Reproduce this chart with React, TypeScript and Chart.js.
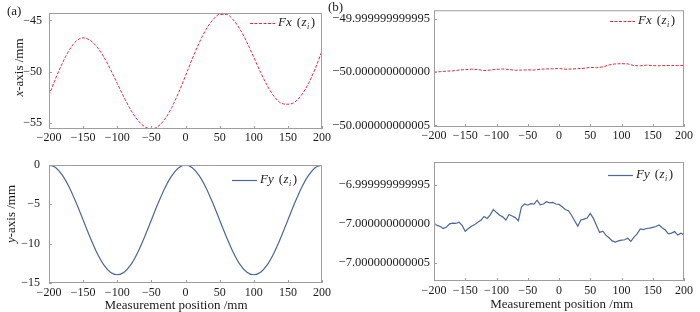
import React, { useEffect, useRef } from 'react';
import { Chart, registerables } from 'chart.js';

Chart.register(...registerables);

const FONT = '"Liberation Serif", "Times New Roman", serif';
const INK = '#1b1b1b';
const FRAME = '#9e9e9e';
const RED = '#d62f3f';
const BLUE = '#4b6894';

// ---------- data ----------
const positions10 = [-200, -190, -180, -170, -160, -150, -140, -130, -120, -110, -100, -90, -80, -70, -60, -50, -40, -30, -20, -10, 0, 10, 20, 30, 40, 50, 60, 70, 80, 90, 100, 110, 120, 130, 140, 150, 160, 170, 180, 190, 200];
const positions5 = [-200, -195, -190, -185, -180, -175, -170, -165, -160, -155, -150, -145, -140, -135, -130, -125, -120, -115, -110, -105, -100, -95, -90, -85, -80, -75, -70, -65, -60, -55, -50, -45, -40, -35, -30, -25, -20, -15, -10, -5, 0, 5, 10, 15, 20, 25, 30, 35, 40, 45, 50, 55, 60, 65, 70, 75, 80, 85, 90, 95, 100, 105, 110, 115, 120, 125, 130, 135, 140, 145, 150, 155, 160, 165, 170, 175, 180, 185, 190, 195, 200];

// (a) Fx(z_i), mm
const fxA = [-52.28, -50.6, -49.1, -47.85, -47.0, -46.7, -46.92, -47.55, -48.52, -49.76, -51.13, -52.49, -53.73, -54.7, -55.33, -55.55, -55.3, -54.58, -53.45, -52.01, -50.39, -48.73, -47.19, -45.89, -44.95, -44.42, -44.42, -44.95, -45.88, -47.13, -48.58, -50.05, -51.37, -52.41, -53.04, -53.15, -52.95, -52.25, -51.15, -49.7, -47.97];
// (a) Fy(z_i), mm
const fyA = [0, -0.34, -1.34, -2.88, -4.84, -7.0, -9.16, -11.12, -12.66, -13.62, -13.95, -13.62, -12.66, -11.12, -9.16, -7.0, -4.84, -2.88, -1.34, -0.34, 0, -0.34, -1.34, -2.88, -4.84, -7.0, -9.16, -11.12, -12.66, -13.62, -13.95, -13.62, -12.66, -11.12, -9.16, -7.0, -4.84, -2.88, -1.34, -0.34, 0];
// (b) Fx(z_i): deviation from -50 mm, in units of 1e-12 mm
const fxB = [0.0, 0.05, 0.1, 0.12, 0.2, 0.24, 0.28, 0.25, 0.15, 0.2, 0.27, 0.3, 0.25, 0.18, 0.2, 0.22, 0.2, 0.28, 0.3, 0.32, 0.34, 0.28, 0.3, 0.33, 0.37, 0.45, 0.42, 0.5, 0.68, 0.78, 0.8, 0.78, 0.62, 0.6, 0.66, 0.62, 0.6, 0.62, 0.63, 0.62, 0.65];
// (b) Fy(z_i): deviation from -7 mm, in units of 1e-12 mm
const fyB = [0.05, -0.2, -0.35, -0.6, -0.4, 0.0, 0.1, 0.05, 0.2, -0.2, -0.95, -0.6, -0.3, -0.1, 0.2, 0.45, 0.95, 0.7, 1.15, 1.85, 1.45, 1.1, 0.9, 0.5, 1.2, 1.0, 0.8, 0.4, 2.2, 2.55, 2.4, 2.6, 2.55, 3.05, 2.45, 2.55, 2.85, 2.7, 2.75, 2.55, 2.5, 2.2, 1.85, 1.7, 1.1, 0.4, -0.3, 0.5, 0.6, 0.75, 1.35, 0.7, -0.2, -1.1, -0.95, -1.45, -1.8, -2.2, -2.35, -2.2, -2.1, -2.05, -1.85, -2.25, -1.7, -1.3, -0.65, -0.75, -0.6, -0.55, -0.45, -0.35, -0.15, -0.5, -0.8, -1.3, -1.2, -1.0, -1.45, -1.2, -1.42];

const xTicks = [-200, -150, -100, -50, 0, 50, 100, 150, 200];
const yTicksFxA = [-45, -50, -55];
const yTicksFyA = [0, -5, -10, -15];
const yTicksFxB = [5, 0, -5];
const yTickLabelsFxB = ['\u221249.999999999995', '\u221250.000000000000', '\u221250.000000000005'];
const yTicksFyB = [5, 0, -5];
const yTickLabelsFyB = ['\u22126.999999999995', '\u22127.000000000000', '\u22127.000000000005'];

const xTitle = 'Measurement position /mm';
const yTitleX = { italic: 'x', rest: '-axis /mm' };
const yTitleY = { italic: 'y', rest: '-axis /mm' };
const legendFx = { main: 'Fx', arg: 'z', sub: 'i' };
const legendFy = { main: 'Fy', arg: 'z', sub: 'i' };

const minus = (s: string) => s.replace('-', '\u2212');

type Spec = {
  left: number; top: number; width: number; height: number;
  area: { l: number; r: number; t: number; b: number };
  xs: number[]; ys: number[];
  yMin: number; yMax: number; yTicks: number[];
  yLabel: (v: number) => string;
  yFont: number; yPad: number; xPad: number;
  color: string; dash: number[]; lw: number; tension: number;
  legend: { main: string; arg: string; sub: string };
  legendPos: { x: number; y: number };
  yTitle?: { italic: string; rest: string; cx: number; cy: number };
  xTitle?: { text: string; cx: number; cy: number };
};

function makePlugin(spec: Spec) {
  return {
    id: 'frameAndText',
    afterDraw(chart: any) {
      const ctx: CanvasRenderingContext2D = chart.ctx;
      const a = chart.chartArea;
      const xs = chart.scales.x;
      const ys = chart.scales.y;
      ctx.save();
      ctx.setLineDash([]);
      ctx.strokeStyle = FRAME;
      ctx.lineWidth = 1;
      ctx.strokeRect(a.left + 0.5, a.top + 0.5, a.right - a.left - 1, a.bottom - a.top - 1);
      ctx.beginPath();
      xs.ticks.forEach((t: any) => {
        const p = Math.round(xs.getPixelForValue(t.value)) + 0.5;
        ctx.moveTo(p, a.bottom);
        ctx.lineTo(p, a.bottom - 3);
      });
      ys.ticks.forEach((t: any) => {
        const p = Math.round(ys.getPixelForValue(t.value)) + 0.5;
        ctx.moveTo(a.left, p);
        ctx.lineTo(a.left + 3, p);
      });
      ctx.stroke();

      // legend
      const ds = chart.data.datasets[0];
      const lx = spec.legendPos.x;
      const ly = spec.legendPos.y;
      ctx.strokeStyle = ds.borderColor;
      ctx.lineWidth = ds.borderWidth;
      ctx.setLineDash(ds.borderDash || []);
      ctx.beginPath();
      ctx.moveTo(lx, ly + 0.5);
      ctx.lineTo(lx + 25, ly + 0.5);
      ctx.stroke();
      ctx.setLineDash([]);
      ctx.fillStyle = INK;
      ctx.textBaseline = 'middle';
      ctx.textAlign = 'left';
      let x = lx + 28;
      ctx.font = `italic 13px ${FONT}`;
      ctx.fillText(spec.legend.main, x, ly);
      x += ctx.measureText(spec.legend.main).width + 5;
      ctx.font = `13px ${FONT}`;
      ctx.fillText('(', x, ly);
      x += ctx.measureText('(').width + 0.5;
      ctx.font = `italic 13px ${FONT}`;
      ctx.fillText(spec.legend.arg, x, ly);
      x += ctx.measureText(spec.legend.arg).width + 0.5;
      ctx.font = `italic 8px ${FONT}`;
      ctx.fillText(spec.legend.sub, x, ly + 4);
      x += ctx.measureText(spec.legend.sub).width + 1.5;
      ctx.font = `13px ${FONT}`;
      ctx.fillText(')', x, ly);

      // y title
      if (spec.yTitle) {
        const t = spec.yTitle;
        ctx.save();
        ctx.translate(t.cx, t.cy);
        ctx.rotate(-Math.PI / 2);
        ctx.font = `italic 13px ${FONT}`;
        const w1 = ctx.measureText(t.italic).width;
        ctx.font = `13px ${FONT}`;
        const w2 = ctx.measureText(t.rest).width;
        const s = -(w1 + w2) / 2;
        ctx.font = `italic 13px ${FONT}`;
        ctx.fillText(t.italic, s, 0);
        ctx.font = `13px ${FONT}`;
        ctx.fillText(t.rest, s + w1, 0);
        ctx.restore();
      }
      // x title
      if (spec.xTitle) {
        ctx.font = `13px ${FONT}`;
        ctx.textAlign = 'center';
        ctx.fillText(spec.xTitle.text, spec.xTitle.cx, spec.xTitle.cy);
      }
      ctx.restore();
    },
  };
}

function buildConfig(spec: Spec): any {
  return {
    type: 'line',
    data: {
      datasets: [
        {
          label: spec.legend.main,
          data: spec.xs.map((x, i) => ({ x, y: spec.ys[i] })),
          borderColor: spec.color,
          borderWidth: spec.lw,
          borderDash: spec.dash,
          pointRadius: 0,
          fill: false,
          tension: spec.tension,
          cubicInterpolationMode: spec.tension > 0 ? 'monotone' : 'default',
        },
      ],
    },
    options: {
      responsive: false,
      animation: false,
      devicePixelRatio: 1,
      events: [],
      layout: { padding: { left: 0, right: spec.width - spec.area.r, top: spec.area.t, bottom: 0 } },
      plugins: { legend: { display: false }, tooltip: { enabled: false } },
      scales: {
        x: {
          type: 'linear',
          min: -200,
          max: 200,
          afterBuildTicks: (s: any) => { s.ticks = xTicks.map((v) => ({ value: v })); },
          afterFit: (s: any) => { s.height = spec.height - spec.area.b; },
          grid: { display: false, drawTicks: false },
          border: { display: false },
          ticks: {
            autoSkip: false,
            maxRotation: 0,
            padding: spec.xPad,
            color: INK,
            font: { family: FONT, size: 12, lineHeight: 1 },
            callback: (v: number) => minus(String(v)),
          },
        },
        y: {
          type: 'linear',
          min: spec.yMin,
          max: spec.yMax,
          afterBuildTicks: (s: any) => { s.ticks = spec.yTicks.map((v) => ({ value: v })); },
          afterFit: (s: any) => { s.width = spec.area.l; },
          grid: { display: false, drawTicks: false },
          border: { display: false },
          ticks: {
            autoSkip: false,
            padding: spec.yPad,
            color: INK,
            font: { family: FONT, size: spec.yFont, lineHeight: 1 },
            callback: (v: number) => spec.yLabel(v),
          },
        },
      },
    },
    plugins: [makePlugin(spec)],
  };
}

const specs: Spec[] = [
  {
    left: 0, top: 0, width: 350, height: 150,
    area: { l: 49, r: 322, t: 8, b: 129 },
    xs: positions10, ys: fxA,
    yMin: -55.56, yMax: -44.28, yTicks: yTicksFxA,
    yLabel: (v) => minus(String(v)),
    yFont: 12, yPad: 7, xPad: 2.5,
    color: RED, dash: [3, 1.5], lw: 1, tension: 0.4,
    legend: legendFx, legendPos: { x: 250, y: 23 },
    yTitle: { ...yTitleX, cx: 19.5, cy: 67.5 },
  },
  {
    left: 330, top: 0, width: 370, height: 150,
    area: { l: 104, r: 354, t: 7, b: 127 },
    xs: positions10, ys: fxB,
    yMin: -5.15, yMax: 5.82, yTicks: yTicksFxB,
    yLabel: (v) => yTickLabelsFxB[yTicksFxB.indexOf(v)] ?? '',
    yFont: 12.5, yPad: 4, xPad: 2.75,
    color: RED, dash: [3, 1.5], lw: 1, tension: 0,
    legend: legendFx, legendPos: { x: 280, y: 21 },
  },
  {
    left: 0, top: 150, width: 350, height: 162,
    area: { l: 49, r: 322, t: 13, b: 133 },
    xs: positions10, ys: fyA,
    yMin: -15, yMax: 0, yTicks: yTicksFyA,
    yLabel: (v) => minus(String(v)),
    yFont: 12, yPad: 9, xPad: 4,
    color: BLUE, dash: [], lw: 1.2, tension: 0.4,
    legend: legendFy, legendPos: { x: 232, y: 30 },
    yTitle: { ...yTitleY, cx: 12, cy: 64 },
    xTitle: { text: xTitle, cx: 176, cy: 155.5 },
  },
  {
    left: 330, top: 150, width: 370, height: 162,
    area: { l: 104, r: 354, t: 12, b: 131 },
    xs: positions5, ys: fyB,
    yMin: -7.36, yMax: 7.96, yTicks: yTicksFyB,
    yLabel: (v) => yTickLabelsFyB[yTicksFyB.indexOf(v)] ?? '',
    yFont: 12.5, yPad: 4, xPad: 4.25,
    color: BLUE, dash: [], lw: 1.2, tension: 0,
    legend: legendFy, legendPos: { x: 278, y: 25 },
    xTitle: { text: xTitle, cx: 231.7, cy: 154.5 },
  },
];

function Panel({ spec }: { spec: Spec }) {
  const ref = useRef<HTMLCanvasElement>(null);
  useEffect(() => {
    const chart = new Chart(ref.current as HTMLCanvasElement, buildConfig(spec));
    return () => chart.destroy();
  }, [spec]);
  return (
    <canvas
      ref={ref}
      width={spec.width}
      height={spec.height}
      style={{ position: 'absolute', left: spec.left, top: spec.top, width: spec.width, height: spec.height }}
    />
  );
}

export default function App() {
  const labelStyle: React.CSSProperties = {
    position: 'absolute',
    fontFamily: FONT,
    fontSize: 13,
    lineHeight: '13px',
    color: INK,
    whiteSpace: 'nowrap',
  };
  return (
    <div style={{ position: 'absolute', left: 0, top: 0, width: 700, height: 312, background: '#ffffff', overflow: 'hidden' }}>
      {specs.map((s, i) => (
        <Panel key={i} spec={s} />
      ))}
      <span style={{ ...labelStyle, left: 7, top: 4 }}>(a)</span>
      <span style={{ ...labelStyle, left: 328, top: 0 }}>(b)</span>
    </div>
  );
}
